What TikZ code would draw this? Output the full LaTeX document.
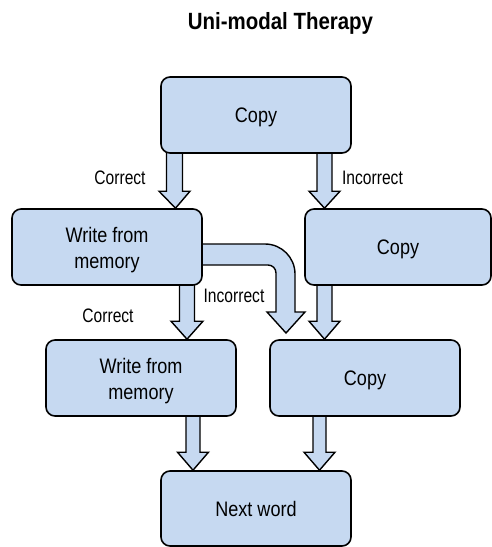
\documentclass[tikz,border=0pt]{standalone}
\usepackage{fontspec}
\usepackage{graphicx}
\setmainfont{Liberation Sans}
\usetikzlibrary{calc,backgrounds}
\definecolor{boxfill}{RGB}{198,217,241}
\newcommand\sqz[2]{\scalebox{#1}[1]{#2}}
\newcommand\bx[1]{\sqz{0.86}{#1}}
\newcommand\barrow[7]{% x, from, to, shaft half, head half, head length
  \draw[blockarrow] let \p1=(#2), \p2=(#3) in
    ({(#1-#4)*1pt},{\y1+4pt}) -- ({(#1+#4)*1pt},{\y1+4pt})
    -- ({(#1+#4)*1pt},{\y2+#6pt}) -- ({(#1+#5)*1pt},{\y2+#6pt})
    -- ({(#1+#7)*1pt},\y2) -- ({(#1-#5)*1pt},{\y2+#6pt})
    -- ({(#1-#4)*1pt},{\y2+#6pt}) -- cycle;}
\begin{document}
\begin{tikzpicture}[x=1pt,y=-1pt,
  box/.style={draw=black,line width=1.6pt,fill=boxfill,rounded corners=9pt,
    minimum width=190pt,minimum height=76pt,align=center,inner sep=0pt,
    text height=15pt,text depth=0pt,
    font=\fontsize{21}{25.7}\selectfont},
  twoline/.style={text height=42pt,text depth=0pt},
  blockarrow/.style={draw=black,line width=1.4pt,fill=boxfill,line join=miter},
  lbl/.style={font=\fontsize{19.5}{22}\selectfont,inner sep=0pt,text height=14pt,text depth=0pt}]
\useasboundingbox (0,0) rectangle (492,547);
\node[font=\bfseries\fontsize{23.5}{26}\selectfont,inner sep=0pt] (title) at (280.5,23) {\sqz{0.87}{Uni-modal Therapy}};
\node[box] (top) at (256,115) {\bx{Copy}};
\node[box,twoline] (wl) at (107,247) {\bx{Write from}\\\bx{memory}};
\node[box,minimum width=186pt] (cr) at (398,247) {\bx{Copy}};
\node[box,twoline] (wl2) at (141,378) {\bx{Write from}\\\bx{memory}};
\node[box] (cr2) at (365,378) {\bx{Copy}};
\node[box,minimum height=75pt] (next) at (256,508.5) {\bx{Next word}};
\begin{scope}[on background layer]
\barrow{174.5}{top.south}{wl.north}{8}{15.5}{17}{1}
\barrow{324.5}{top.south}{cr.north}{7.5}{15.5}{17}{0}
\barrow{187}{wl.south}{wl2.north}{7.5}{16}{18}{0}
\barrow{324.5}{cr.south}{cr2.north}{7.5}{15.5}{18}{0}
\barrow{193}{wl2.south}{next.north}{7}{15.5}{18}{0}
\barrow{319.5}{cr2.south}{next.north}{6.5}{15.5}{18}{0}
\draw[blockarrow] let \p1=(wl.east) in
  ({\x1-6pt},244) -- (265,244) arc[start angle=90,end angle=0,radius=30pt]
  -- (295,312) -- (305,312) -- (286,333) -- (267,312) -- (276,312)
  -- (276,273) arc[start angle=0,end angle=90,radius=8pt]
  -- ({\x1-6pt},265) -- cycle;
\end{scope}
\node[lbl] (l1) at (120,177) {\sqz{0.80}{Correct}};
\node[lbl] (l2) at (372.5,177) {\sqz{0.80}{Incorrect}};
\node[lbl] (l3) at (234,295) {\sqz{0.80}{Incorrect}};
\node[lbl] (l4) at (108,315) {\sqz{0.80}{Correct}};
\end{tikzpicture}
\end{document}
